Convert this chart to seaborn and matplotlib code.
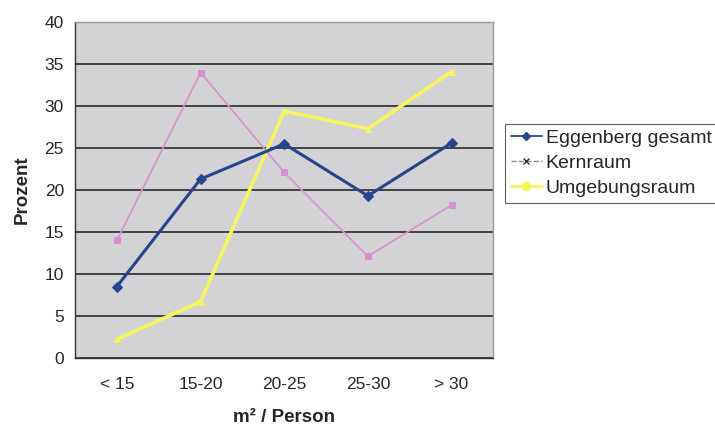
import matplotlib
matplotlib.use("Agg")
import matplotlib.pyplot as plt
from matplotlib.lines import Line2D
import seaborn as sns
import pandas as pd

categories = ["< 15", "15-20", "20-25", "25-30", "> 30"]
eggenberg = [8.5, 21.3, 25.5, 19.3, 25.6]
kernraum = [14.0, 34.0, 22.1, 12.1, 18.2]
umgebung = [2.2, 6.7, 29.4, 27.3, 34.1]
series_names = ["Eggenberg gesamt", "Kernraum", "Umgebungsraum"]

sns.set_style("white")
plt.rcParams["font.family"] = ["Liberation Sans", "DejaVu Sans"]

df = pd.DataFrame({
    "cat": categories * 3,
    "x": list(range(len(categories))) * 3,
    "wert": eggenberg + kernraum + umgebung,
    "serie": [series_names[0]] * 5 + [series_names[1]] * 5 + [series_names[2]] * 5,
})

fig = plt.figure(figsize=(7.15, 4.26), dpi=100)
ax = fig.add_axes([0.105, 0.16, 0.585, 0.788])
ax.set_facecolor("#d3d3d5")

styles = {
    "Eggenberg gesamt": dict(color="#26448f", marker="D", lw=2.2, ms=5),
    "Kernraum": dict(color="#d88fd0", marker="s", lw=1.2, ms=5),
    "Umgebungsraum": dict(color="#f6f55e", marker="^", lw=2.6, ms=5),
}
# draw back-to-front so the total line sits on top
for name in ["Umgebungsraum", "Kernraum", "Eggenberg gesamt"]:
    st = styles[name]
    sub = df[df["serie"] == name]
    sns.lineplot(data=sub, x="x", y="wert", ax=ax, color=st["color"],
                 marker=st["marker"], markersize=st["ms"], linewidth=st["lw"],
                 markeredgecolor=st["color"], label=name, legend=False)

ax.set_xlim(-0.5, len(categories) - 0.5)
ax.set_ylim(0, 40)
ax.set_yticks(range(0, 41, 5))
ax.set_yticklabels([str(v) for v in range(0, 41, 5)], fontsize=12.5)
ax.yaxis.grid(True, color="#1a1a1a", linewidth=1.1)
ax.set_axisbelow(True)

ax.set_xticks(range(len(categories)))
ax.set_xticklabels(categories, fontsize=12.5)
ax.set_xticks([i - 0.5 for i in range(len(categories) + 1)], minor=True)
ax.tick_params(axis="x", which="major", length=0, pad=14)
ax.tick_params(axis="x", which="minor", length=5, color="#333333", direction="out")
ax.tick_params(axis="y", length=5, color="#333333", direction="out", pad=3)

for side in ["top", "right"]:
    ax.spines[side].set_color("#9a9a9a")
    ax.spines[side].set_linewidth(1.0)
for side in ["left", "bottom"]:
    ax.spines[side].set_color("#333333")
    ax.spines[side].set_linewidth(1.0)

ax.set_xlabel("m² / Person", fontsize=13.5, fontweight="bold", labelpad=12)
ax.set_ylabel("Prozent", fontsize=13.5, fontweight="bold", labelpad=10)

handles = [
    Line2D([], [], color=styles["Eggenberg gesamt"]["color"], marker="D",
           markersize=4, linewidth=1.3),
    Line2D([], [], color="#8a8a8a", marker="x", markeredgecolor="#333333",
           markersize=4, linewidth=1.0, linestyle="--"),
    Line2D([], [], color=styles["Umgebungsraum"]["color"], marker="o",
           markersize=6, linewidth=2.0),
]
leg = fig.legend(handles, series_names, loc="upper left",
                 bbox_to_anchor=(0.706, 0.71), fontsize=14, frameon=True,
                 fancybox=False, edgecolor="#333333", handlelength=1.6,
                 handletextpad=0.2, borderpad=0.3, labelspacing=0.38,
                 borderaxespad=0)
leg.get_frame().set_linewidth(0.8)

fig.savefig("out.png", dpi=100, facecolor="white")
